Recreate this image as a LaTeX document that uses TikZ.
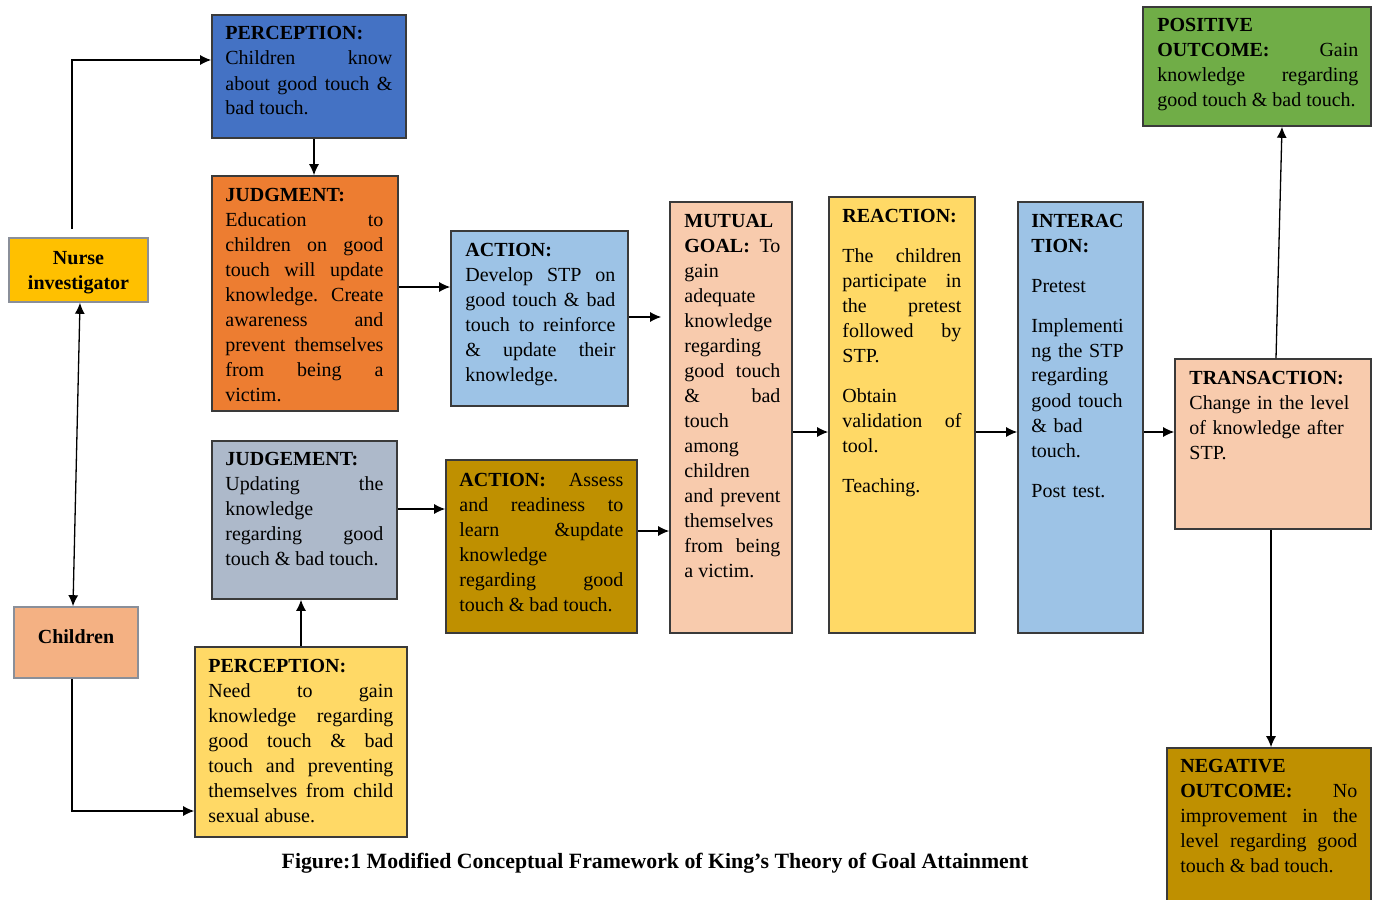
\documentclass[tikz,border=0pt]{standalone}
\usepackage{fontspec}
\setmainfont{Liberation Serif}
\usetikzlibrary{arrows.meta,calc,fit}
\definecolor{cBlue}{HTML}{4472C4}
\definecolor{cOrange}{HTML}{ED7D31}
\definecolor{cAmber}{HTML}{FFC000}
\definecolor{cSalmon}{HTML}{F4B183}
\definecolor{cSky}{HTML}{9DC3E6}
\definecolor{cSlate}{HTML}{ADB9CA}
\definecolor{cGold}{HTML}{BF9000}
\definecolor{cYellow}{HTML}{FFD966}
\definecolor{cPeach}{HTML}{F8CBAD}
\definecolor{cGreen}{HTML}{70AD47}
\definecolor{cEdge}{HTML}{3A3A3A}
\definecolor{cEdgeLight}{HTML}{8A8F99}
\begin{document}
\begin{tikzpicture}[x=0.5pt,y=-0.5pt,
  box/.style={draw=cEdge, line width=0.8pt, inner sep=0pt},
  lbox/.style={draw=cEdgeLight, line width=0.8pt, inner sep=0pt},
  txt/.style={anchor=base west, inner sep=0pt, align=justify,
    font=\fontsize{10}{12.5}\selectfont,
    execute at begin node={\tolerance=10000\hbadness=10000\hyphenpenalty=10000\parindent=0pt}},
  ctxt/.style={inner sep=0pt, align=center, font=\bfseries\fontsize{10}{12.5}\selectfont},
  arr/.style={line width=0.65pt, -{Latex[length=5.5pt,width=5pt]}},
  arrb/.style={line width=0.65pt, {Latex[length=5.5pt,width=5pt]}-{Latex[length=5.5pt,width=5pt]}},
]
\useasboundingbox (0,0) rectangle (1375,899);

% boxes
\node[box, fill=cBlue,   fit={(212,15) (406,138)}]   (p1) {};
\node[box, fill=cOrange, fit={(212,176) (398,411)}]  (j1) {};
\node[lbox, fill=cAmber, fit={(9,238) (148,302)}]    (nurse) {};
\node[lbox, fill=cSalmon,fit={(14,607) (138,678)}]   (ch) {};
\node[box, fill=cSky,    fit={(451,231) (628,406)}]  (a1) {};
\node[box, fill=cSlate,  fit={(212,441) (397,599)}]  (g1) {};
\node[box, fill=cGold,   fit={(446,460) (637,633)}]  (a2) {};
\node[box, fill=cYellow, fit={(195,647) (407,837)}]  (p2) {};
\node[box, fill=cPeach,  fit={(670,202) (792,633)}]  (mg) {};
\node[box, fill=cYellow, fit={(829,197) (975,633)}]  (re) {};
\node[box, fill=cSky,    fit={(1018,202) (1143,633)}] (in) {};
\node[box, fill=cPeach,  fit={(1175,359) (1371,529)}] (tr) {};
\node[box, fill=cGreen,  fit={(1143,7) (1371,126)}]   (po) {};
\node[box, fill=cGold,   fit={(1167,748) (1371,910)}] (ne) {};

% texts
\node[txt, text width=83.5pt] (tp1) at (225,40) {\textbf{PERCEPTION:}\\ Children know\linebreak about good touch \&\linebreak bad touch.};
\node[txt, text width=79pt] (tj1) at (225,201) {\textbf{JUDGMENT:}\\ Education to\linebreak children on good\linebreak touch will update\linebreak knowledge. Create\linebreak awareness and\linebreak prevent themselves\linebreak from being a\linebreak victim.};
\node[txt, text width=75pt] (ta1) at (465,256) {\textbf{ACTION:}\\ Develop STP on\linebreak good touch \& bad\linebreak touch to reinforce\linebreak \& update their\linebreak knowledge.};
\node[txt, text width=48pt] (tmg) at (684,227) {\textbf{MUTUAL}\\ \textbf{GOAL:} To\linebreak gain\\ adequate\\ knowledge\\ regarding\\ good touch\linebreak \& bad\linebreak touch\\ among\\ children\\ and prevent\linebreak themselves\\ from being\linebreak a victim.};
\node[txt, text width=59.5pt] (tre) at (842,222) {\textbf{REACTION:}\\[7.5pt] The children\linebreak participate in\linebreak the pretest\linebreak followed by\linebreak STP.\\[7.5pt] Obtain\\ validation of\linebreak tool.\\[7.5pt] Teaching.};
\node[txt, text width=52pt, align=left] (tin) at (1031,227) {\textbf{INTERAC}\\ \textbf{TION:}\\[7.5pt] Pretest\\[7.5pt] Implementi\\ ng the STP\\ regarding\\ good touch\\ \& bad\\ touch.\\[7.5pt] Post test.};
\node[txt, text width=90pt, align=left] (ttr) at (1189,384) {\textbf{TRANSACTION:}\\ Change in the level\\ of knowledge after\\ STP.};
\node[txt, text width=100.5pt] (tpo) at (1157,32) {\textbf{POSITIVE}\\ \textbf{OUTCOME:} Gain\linebreak knowledge regarding\linebreak good touch \& bad touch.};
\node[txt, text width=88.5pt] (tne) at (1180,772) {\textbf{NEGATIVE}\\ \textbf{OUTCOME:} No\linebreak improvement in the\linebreak level regarding good\linebreak touch \& bad touch.};
\node[txt, text width=79pt] (tg1) at (225,465) {\textbf{JUDGEMENT:}\\ Updating the\linebreak knowledge\\ regarding good\linebreak touch \& bad touch.};
\node[txt, text width=82pt] (ta2) at (459,486) {\textbf{ACTION:} Assess\linebreak and readiness to\linebreak learn \&update\linebreak knowledge\\ regarding good\linebreak touch \& bad touch.};
\node[txt, text width=92.5pt] (tp2) at (208,672) {\textbf{PERCEPTION:}\\ Need to gain\linebreak knowledge regarding\linebreak good touch \& bad\linebreak touch and preventing\linebreak themselves from child\linebreak sexual abuse.};
\node[ctxt] (tnurse) at (78.5,272.5) {Nurse\\investigator};
\node[ctxt] (tch) at (76,637) {Children};
\node[inner sep=0pt, font=\bfseries\fontsize{10.9}{13}\selectfont] (cap) at (655,863) {Figure:1 Modified Conceptual Framework of King’s Theory of Goal Attainment};

% connectors
\draw[arr] ($(nurse.north -| 72,0)+(0,-8)$) |- (p1.west |- 0,60);
\draw[arr] (p1.south -| 314,0) -- (j1.north -| 314,0);
\draw[arr] (j1.east |- 0,287) -- (a1.west |- 0,287);
\draw[arr] (a1.east |- 0,317) -- ($(mg.west |- 0,317)+(-8,0)$);
\draw[arr] (g1.east |- 0,509) -- (a2.west |- 0,509);
\draw[arr] (a2.east |- 0,531) -- (mg.west |- 0,531);
\draw[arr] (mg.east |- 0,432) -- (re.west |- 0,432);
\draw[arr] (re.east |- 0,432) -- (in.west |- 0,432);
\draw[arr] (in.east |- 0,432) -- (tr.west |- 0,432);
\draw[arr] (tr.north -| 1276,0) -- (po.south -| 1282,0);
\draw[arr] (tr.south -| 1271,0) -- (ne.north -| 1271,0);
\draw[arrb] (nurse.south -| 80,0) -- (ch.north -| 73,0);
\draw[arr] (ch.south -| 72,0) |- (p2.west |- 0,811);
\draw[arr] (p2.north -| 301,0) -- (g1.south -| 301,0);
\end{tikzpicture}
\end{document}
